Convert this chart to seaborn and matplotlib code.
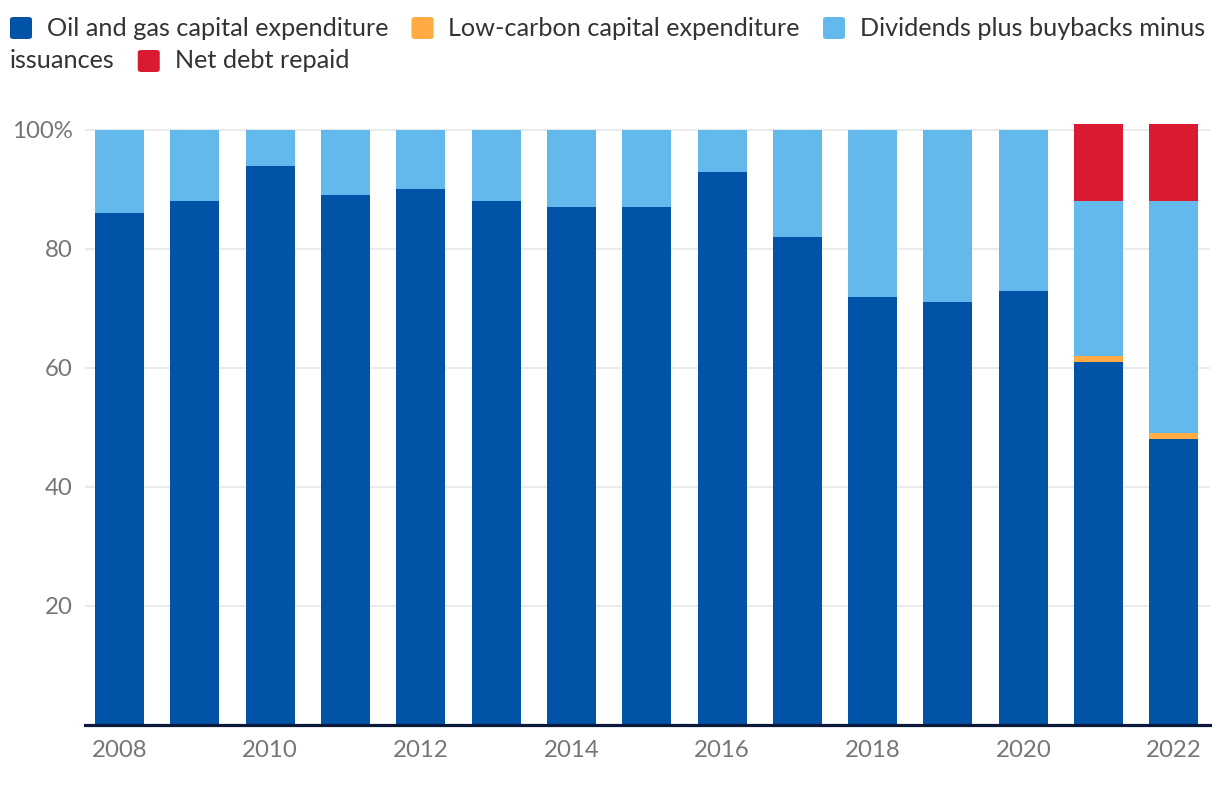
import matplotlib
matplotlib.use("Agg")
import matplotlib.pyplot as plt
from matplotlib.patches import FancyBboxPatch
import seaborn as sns
import pandas as pd
import numpy as np

# data (share of spending, %)
years = [2008, 2009, 2010, 2011, 2012, 2013, 2014, 2015, 2016, 2017, 2018, 2019, 2020, 2021, 2022]
oil_gas = [86, 88, 94, 89, 90, 88, 87, 87, 93, 82, 72, 71, 73, 61, 48]
low_carbon = [0, 0, 0, 0, 0, 0, 0, 0, 0, 0, 0, 0, 0, 1, 1]
dividends = [14, 12, 6, 11, 10, 12, 13, 13, 7, 18, 28, 29, 27, 26, 39]
net_debt = [0, 0, 0, 0, 0, 0, 0, 0, 0, 0, 0, 0, 0, 13, 13]

series_names = ["Oil and gas capital expenditure", "Low-carbon capital expenditure",
                "Dividends plus buybacks minus issuances", "Net debt repaid"]
colors = ["#0053a6", "#ffab44", "#63b8ec", "#da1a31"]
ytick_vals = [20, 40, 60, 80, 100]
ytick_labels = ["20", "40", "60", "80", "100%"]

sns.set_theme(style="white")
plt.rcParams["font.family"] = ["Lato", "DejaVu Sans"]

W, H = 1220, 790
fig = plt.figure(figsize=(W / 100, H / 100), dpi=100)
ax = fig.add_axes([85 / W, (H - 725) / H, 1125 / W, (725 - 118) / H])

df = pd.DataFrame({"year": [str(y) for y in years]})
layers = [oil_gas, low_carbon, dividends, net_debt]
cum = np.cumsum(np.array(layers, dtype=float), axis=0)

# draw the stacked bars top layer first, each lower layer on top of it
for i in range(len(layers) - 1, -1, -1):
    top = cum[i].copy()
    top[np.array(layers[i]) == 0] = np.nan
    df["top"] = top
    sns.barplot(data=df, x="year", y="top", color=colors[i], saturation=1,
                width=0.65, errorbar=None, linewidth=0, ax=ax)

ax.set_xlim(-0.46, 14.48)
ax.set_ylim(0, 102)
ax.set_xlabel("")
ax.set_ylabel("")

ax.set_yticks(ytick_vals)
ax.set_yticklabels(ytick_labels)
ax.set_xticks(range(len(years)))
ax.set_xticklabels([str(y) if y % 2 == 0 else "" for y in years])
ax.tick_params(axis="both", length=0, labelsize=17.3, labelcolor="#767676")
ax.tick_params(axis="y", pad=9)
ax.tick_params(axis="x", pad=11)

ax.yaxis.grid(True, color="#e6e6e6", linewidth=1.2)
ax.set_axisbelow(True)
for s in ["left", "right", "top"]:
    ax.spines[s].set_visible(False)
ax.spines["bottom"].set_color("#0b1a3b")
ax.spines["bottom"].set_linewidth(2.3)
ax.spines["bottom"].set_zorder(5)

# legend laid out as wrapped text lines
renderer = fig.canvas.get_renderer()
fs = 18.2
line_y = [28, 61]
x = 10
row = 0
right_edge = 1216

def text_w(s):
    t = fig.text(0, 0, s, fontsize=fs)
    w = t.get_window_extent(renderer).width
    t.remove()
    return w

for name, c in zip(series_names, colors):
    if x + 22 + 15 + text_w(name.split()[0]) > right_edge:
        row += 1
        x = 10
    yc = line_y[row]
    fig.patches.append(FancyBboxPatch((x / W, (H - yc - 11) / H), 22 / W, 22 / H,
                                      boxstyle="round,pad=0,rounding_size=0.003",
                                      transform=fig.transFigure, facecolor=c,
                                      edgecolor="none"))
    x += 22 + 15
    piece = ""
    for wd in name.split():
        trial = (piece + " " + wd).strip()
        if x + text_w(trial) > right_edge and piece:
            fig.text(x / W, 1 - line_y[row] / H, piece, fontsize=fs, color="#333333",
                     va="center", ha="left")
            row += 1
            x = 10
            piece = wd
        else:
            piece = trial
    fig.text(x / W, 1 - line_y[row] / H, piece, fontsize=fs, color="#333333",
             va="center", ha="left")
    x += text_w(piece) + 23

fig.savefig("out.png", dpi=100)
